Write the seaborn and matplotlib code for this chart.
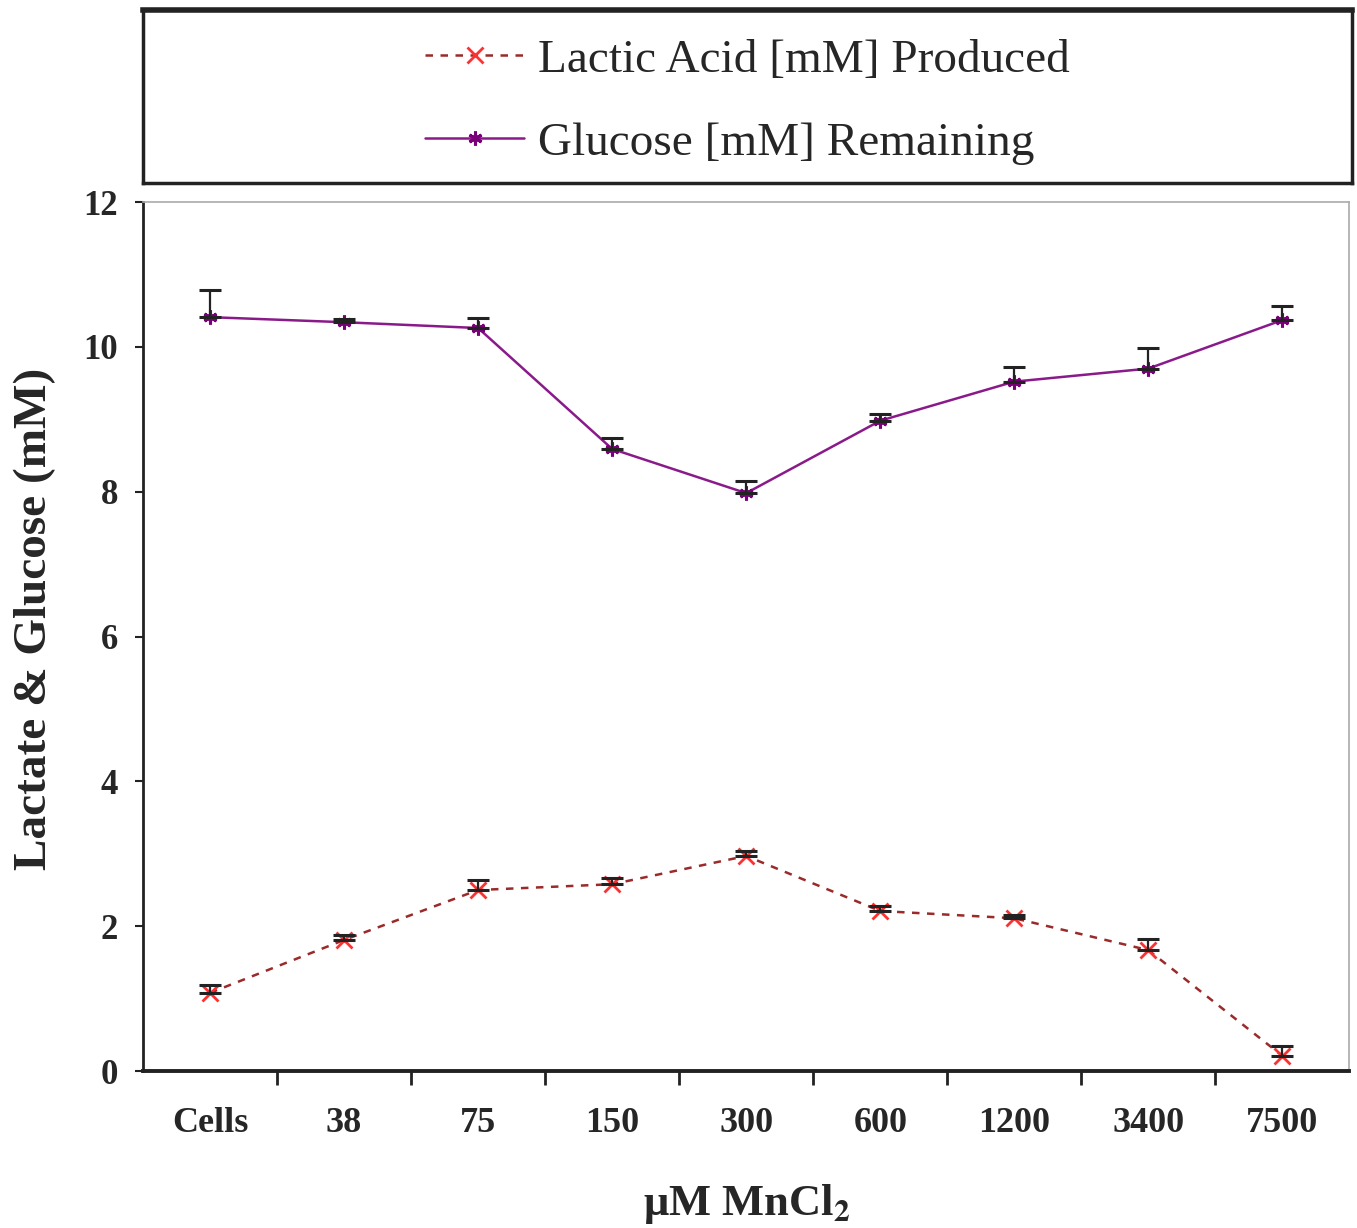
import numpy as np
import pandas as pd
import matplotlib
matplotlib.use("Agg")
import matplotlib.pyplot as plt
import seaborn as sns

# ---- data ----
categories = ["Cells", "38", "75", "150", "300", "600", "1200", "3400", "7500"]
lactate = [1.08, 1.81, 2.50, 2.58, 2.97, 2.21, 2.11, 1.67, 0.21]
lactate_err = [0.11, 0.07, 0.14, 0.09, 0.07, 0.07, 0.04, 0.15, 0.14]
glucose = [10.41, 10.34, 10.26, 8.59, 7.98, 8.98, 9.52, 9.70, 10.37]
glucose_err = [0.38, 0.05, 0.14, 0.15, 0.17, 0.09, 0.20, 0.29, 0.20]
yticks = [0, 2, 4, 6, 8, 10, 12]

sns.set_style("ticks")
plt.rcParams["font.family"] = ["Liberation Serif", "DejaVu Serif"]
plt.rcParams["mathtext.fontset"] = "stix"

pos = np.arange(len(categories))
df = pd.DataFrame({
    "pos": np.concatenate([pos, pos]),
    "value": lactate + glucose,
    "series": ["Lactic Acid [mM] Produced"] * len(pos) + ["Glucose [mM] Remaining"] * len(pos),
})

fig = plt.figure(figsize=(13.57, 12.28), dpi=100)
ax = fig.add_axes([0.1054, 0.1278, 0.889, 0.7077])

lac_df = df[df.series == "Lactic Acid [mM] Produced"]
glu_df = df[df.series == "Glucose [mM] Remaining"]

sns.lineplot(data=lac_df, x="pos", y="value", ax=ax, color="#9b2a2a",
             linestyle=(0, (3, 3)), linewidth=1.8, marker="x", markersize=11,
             markeredgewidth=2, markeredgecolor="#ff3030",
             label="Lactic Acid [mM] Produced")
sns.lineplot(data=glu_df, x="pos", y="value", ax=ax, color="#8a1a8a",
             linewidth=1.8, marker=(6, 2, 0), markersize=10,
             markeredgewidth=2.2, markeredgecolor="#7a007a",
             label="Glucose [mM] Remaining")

ax.errorbar(pos, lactate, yerr=[np.zeros(len(pos)), lactate_err], fmt="none",
            ecolor="#222222", elinewidth=1.6, capsize=8, capthick=2.2, zorder=4)
ax.errorbar(pos, glucose, yerr=[np.zeros(len(pos)), glucose_err], fmt="none",
            ecolor="#222222", elinewidth=1.6, capsize=8, capthick=2.2, zorder=4)

ax.set_xlim(-0.5, len(categories) - 0.5)
ax.set_ylim(0, 12)
ax.set_yticks(yticks)
ax.set_yticklabels([str(t) for t in yticks], fontsize=25, fontweight="bold")
ax.set_xticks(pos)
ax.set_xticklabels(categories, fontsize=26, fontweight="bold")
ax.set_xticks(pos[:-1] + 0.5, minor=True)
ax.tick_params(axis="x", which="major", length=0, pad=26)
ax.tick_params(axis="x", which="minor", length=10, width=2, direction="out", color="#222222")
ax.tick_params(axis="y", which="major", length=6, width=1.5, direction="out", pad=12, color="#222222")

ax.set_xlabel(r"μM MnCl$_\mathbf{2}$", fontsize=32, fontweight="bold", labelpad=30)
ax.set_ylabel("Lactate & Glucose (mM)", fontsize=34, fontweight="bold")
ax.yaxis.set_label_coords(-0.072, 0.52)

for s in ["left", "bottom"]:
    ax.spines[s].set_color("#222222")
ax.spines["left"].set_linewidth(2)
ax.spines["bottom"].set_linewidth(2.8)
for s in ["top", "right"]:
    ax.spines[s].set_color("#aaaaaa")
    ax.spines[s].set_linewidth(1.2)

handles, labels = ax.get_legend_handles_labels()
ax.get_legend().remove()

lax = fig.add_axes([0.1054, 0.851, 0.891, 0.141])
lax.set_xticks([])
lax.set_yticks([])
for s in lax.spines.values():
    s.set_color("#222222")
    s.set_linewidth(2.5)
lax.spines["top"].set_linewidth(4)
lax.legend(handles, labels, loc="center", bbox_to_anchor=(0.5, 0.47), frameon=False,
           fontsize=34, handlelength=2.1, handletextpad=0.3, labelspacing=0.85)

fig.savefig("out.png", dpi=100)
